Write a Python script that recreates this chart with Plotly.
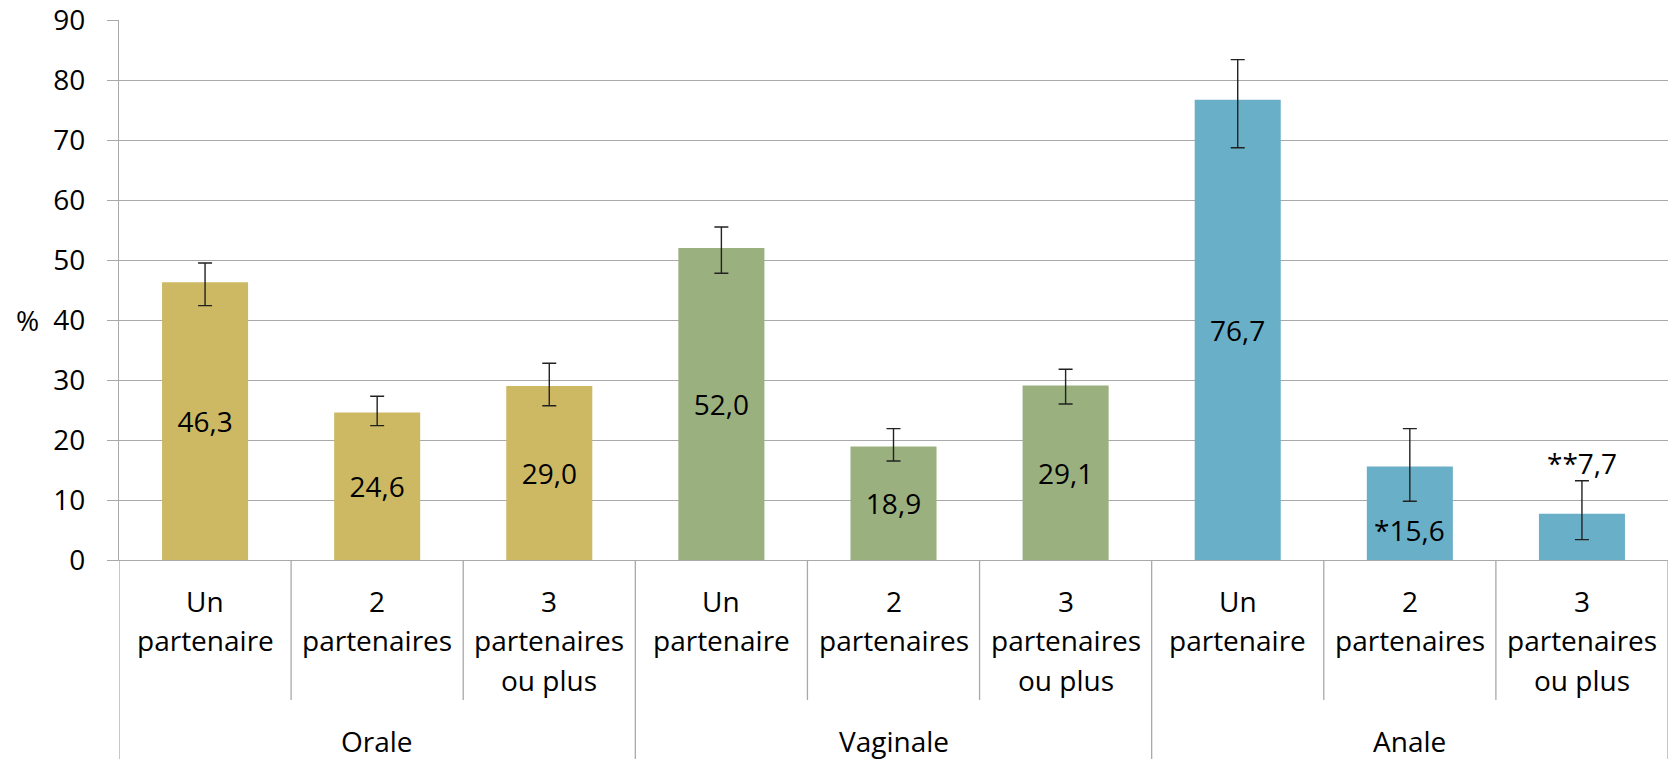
import plotly.graph_objects as go

# Pratique sexuelle (groupe) et nombre de partenaires (sous-catégorie)
groups = ["Orale", "Vaginale", "Anale"]
subcats = [["Un", "partenaire"], ["2", "partenaires"], ["3", "partenaires", "ou plus"]]

# Pourcentages et intervalles de confiance
values = [46.3, 24.6, 29.0, 52.0, 18.9, 29.1, 76.7, 15.6, 7.7]
ci_low = [42.4, 22.4, 25.7, 47.8, 16.5, 26.0, 68.7, 9.8, 3.4]
ci_high = [49.5, 27.3, 32.8, 55.5, 21.9, 31.8, 83.4, 21.9, 13.2]
flags = ["", "", "", "", "", "", "", "*", "**"]

group_colors = {"Orale": "#CDB964", "Vaginale": "#9BB07F", "Anale": "#6AAFC8"}

FONT = "Open Sans"
FS = 28
GRID = "#A9A9A9"

n_sub = len(subcats)
xs = list(range(len(values)))
colors = [group_colors[groups[i // n_sub]] for i in xs]
labels = [f + f"{v:.1f}".replace(".", ",") for f, v in zip(flags, values)]

# labels drawn on the bar itself, except the flagged (small sample) ones
bar_text = [lab if not f else "" for lab, f in zip(labels, flags)]

fig = go.Figure()
fig.add_trace(go.Bar(
    x=xs,
    y=values,
    marker=dict(color=colors, line=dict(width=0)),
    width=0.5,
    text=bar_text,
    textposition="inside",
    insidetextanchor="middle",
    textangle=0,
    insidetextfont=dict(family=FONT, size=FS, color="black"),
    error_y=dict(
        type="data",
        symmetric=False,
        array=[h - v for h, v in zip(ci_high, values)],
        arrayminus=[v - l for v, l in zip(values, ci_low)],
        color="#222222",
        thickness=1.4,
        width=7,
    ),
    hoverinfo="skip",
    showlegend=False,
))

# flagged labels: placed away from the error bars
flag_label_y = {7: 5.0, 8: 16.2}
annotations = []
for i, y in flag_label_y.items():
    annotations.append(dict(
        x=i, y=y, xref="x", yref="y", text=labels[i], showarrow=False,
        xanchor="center", yanchor="middle",
        font=dict(family=FONT, size=FS, color="black"),
    ))

# two-level category axis drawn beneath the plot
TOP_PX, BOTTOM_PX = 20, 560
plot_h = BOTTOM_PX - TOP_PX
LINE_PX = 39.7


def py(px):
    return (BOTTOM_PX - px) / plot_h


for i in xs:
    for k, line in enumerate(subcats[i % n_sub]):
        annotations.append(dict(
            x=i, y=py(600.5 + k * LINE_PX), xref="x", yref="paper", text=line,
            showarrow=False, xanchor="center", yanchor="middle",
            font=dict(family=FONT, size=FS, color="black"),
        ))
for g, name in enumerate(groups):
    annotations.append(dict(
        x=g * n_sub + (n_sub - 1) / 2, y=py(741), xref="x", yref="paper",
        text=name, showarrow=False, xanchor="center", yanchor="middle",
        font=dict(family=FONT, size=FS, color="black"),
    ))

annotations.append(dict(
    x=(27 - 119) / 1549, y=py(320), xref="paper", yref="paper", text="%",
    showarrow=False, xanchor="center", yanchor="middle",
    font=dict(family=FONT, size=FS, color="black"),
))

shapes = []
for b in range(len(values) + 1):
    is_group_edge = b % n_sub == 0
    shapes.append(dict(
        type="line", xref="x", yref="paper",
        x0=b - 0.5, x1=b - 0.5, y0=0, y1=py(759 if is_group_edge else 700),
        line=dict(color=GRID, width=1.3),
    ))

fig.update_layout(
    width=1671, height=759,
    margin=dict(l=119, r=3, t=TOP_PX, b=759 - BOTTOM_PX, autoexpand=False),
    paper_bgcolor="white", plot_bgcolor="white",
    font=dict(family=FONT, size=FS, color="black"),
    xaxis=dict(
        range=[-0.5, len(values) - 0.5], showticklabels=False, showgrid=False,
        zeroline=False, showline=True, linecolor=GRID, linewidth=1.3,
        ticks="", fixedrange=True, automargin=False,
    ),
    yaxis=dict(
        range=[0, 90], dtick=10, showgrid=True, gridcolor=GRID, gridwidth=1.3,
        zeroline=False, showline=True, linecolor=GRID, linewidth=1.3,
        ticks="outside", ticklen=11, tickcolor=GRID, tickwidth=1.3,
        ticklabelstandoff=16, ticklabeloverflow="allow", automargin=False,
        tickfont=dict(family=FONT, size=FS, color="black"), fixedrange=True,
    ),
    annotations=annotations,
    shapes=shapes,
    bargap=0.5,
)

fig.write_html("out.html", config={"displayModeBar": False})
